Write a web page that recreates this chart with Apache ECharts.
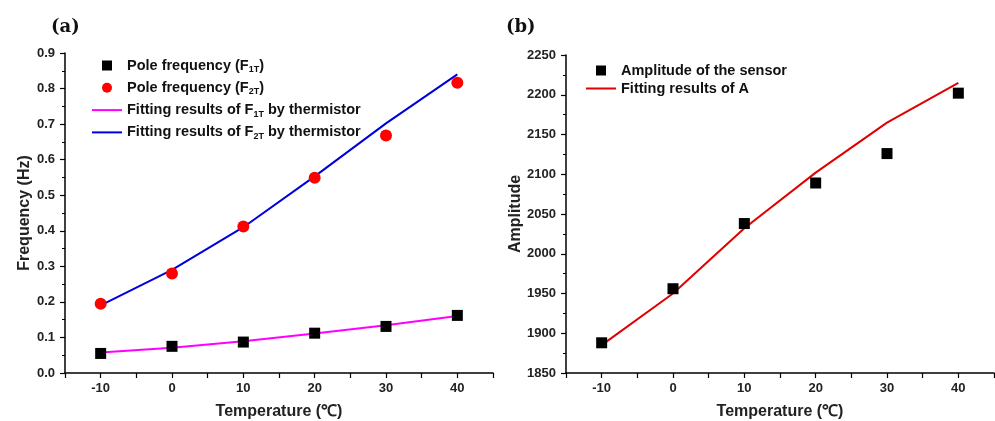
<!DOCTYPE html>
<html>
<head>
<meta charset="utf-8">
<script src="https://cdn.jsdelivr.net/npm/echarts@6/dist/echarts.min.js"></script>
<style>
html, body { margin: 0; padding: 0; background: #fff; }
#main { width: 995px; height: 421px; }
</style>
</head>
<body>
<div id="main"></div>
<script>
// temperatures (°C)
var temps = [-10, 0, 10, 20, 30, 40];

// panel (a): pole frequencies (Hz)
var f1tMeasured = [0.055, 0.075, 0.087, 0.112, 0.131, 0.162];
var f2tMeasured = [0.195, 0.280, 0.412, 0.549, 0.668, 0.816];
var f1tFit = [0.058, 0.071, 0.089, 0.111, 0.134, 0.160];
var f2tFit = [0.190, 0.290, 0.410, 0.553, 0.702, 0.840];

// panel (b): amplitude
var ampMeasured = [1888, 1956, 2038, 2089, 2126, 2202];
var ampFit = [1885, 1950, 2032, 2102, 2165, 2215];

function pairs(xs, ys) {
	var out = [];
	for (var i = 0; i < xs.length; i++) {
		out.push([xs[i], ys[i]]);
	}
	return out;
}

var labelFont = { color: '#222', fontFamily: 'Liberation Sans', fontWeight: 'bold', fontSize: 13 };
var nameFont = { color: '#222', fontFamily: 'Liberation Sans', fontWeight: 'bold', fontSize: 16 };
var axisLine = { show: true, onZero: false, lineStyle: { color: '#000', width: 1.5 } };
var squareIcon = 'path://M0,0 L10,0 L10,10 L0,10 Z';

function xAxisFor(gridIndex) {
	return {
		type: 'value', gridIndex: gridIndex,
		min: -15, max: 45, interval: 5,
		name: 'Temperature (℃)', nameLocation: 'middle', nameGap: 31,
		nameTextStyle: nameFont,
		axisLine: axisLine,
		axisTick: { show: true, length: 5, lineStyle: { color: '#000', width: 1.2 } },
		axisLabel: Object.assign({
			margin: 9,
			formatter: function(v) { return v % 10 === 0 ? String(v) : ''; }
		}, labelFont),
		splitLine: { show: false }
	};
}

var legendRich = {
	t: { fontFamily: 'Liberation Sans', fontWeight: 'bold', fontSize: 14.5, color: '#111' },
	s: { fontFamily: 'Liberation Sans', fontWeight: 'bold', fontSize: 9, color: '#111', padding: [8, 0, 0, 0] }
};

var legendNames = {
	'f1': '{t|Pole frequency (F}{s|1T}{t|)}',
	'f2': '{t|Pole frequency (F}{s|2T}{t|)}',
	'fit1': '{t|Fitting results of F}{s|1T}{t| by thermistor}',
	'fit2': '{t|Fitting results of F}{s|2T}{t| by thermistor}'
};

var option = {
	animation: false,
	backgroundColor: '#fff',
	title: [
		{ text: '(a)', left: 46, top: 13, textStyle: { fontFamily: 'DejaVu Serif', fontWeight: 'bold', fontSize: 18, color: '#111' } },
		{ text: '(b)', left: 501, top: 13, textStyle: { fontFamily: 'DejaVu Serif', fontWeight: 'bold', fontSize: 18, color: '#111' } }
	],
	grid: [
		{ left: 65, right: 502, top: 53, bottom: 48, outerBoundsMode: 'none' },
		{ left: 566, right: 1, top: 55, bottom: 48, outerBoundsMode: 'none' }
	],
	legend: [
		{
			orient: 'vertical', left: 86, top: 53, itemWidth: 30, itemHeight: 10, itemGap: 6.3,
			data: [
				{ name: 'f1', icon: squareIcon },
				{ name: 'f2', icon: 'circle' },
				{ name: 'fit1', itemStyle: { opacity: 0 } },
				{ name: 'fit2', itemStyle: { opacity: 0 } }
			],
			formatter: function(n) { return legendNames[n]; },
			textStyle: { rich: legendRich }
		},
		{
			orient: 'vertical', left: 580, top: 58, itemWidth: 30, itemHeight: 10, itemGap: 3,
			data: [
				{ name: 'Amplitude of the sensor', icon: squareIcon },
				{ name: 'Fitting results of A', itemStyle: { opacity: 0 } }
			],
			textStyle: { fontFamily: 'Liberation Sans', fontWeight: 'bold', fontSize: 14.5, color: '#111' }
		}
	],
	xAxis: [xAxisFor(0), xAxisFor(1)],
	yAxis: [
		{
			type: 'value', gridIndex: 0, min: 0, max: 0.9, interval: 0.1,
			name: 'Frequency (Hz)', nameLocation: 'middle', nameGap: 32,
			nameTextStyle: nameFont,
			axisLine: axisLine,
			axisTick: { show: true, length: 5, lineStyle: { color: '#000', width: 1.2 } },
			minorTick: { show: true, splitNumber: 2, length: 3, lineStyle: { color: '#000', width: 1 } },
			axisLabel: Object.assign({ margin: 10, formatter: function(v) { return v.toFixed(1); } }, labelFont),
			splitLine: { show: false }
		},
		{
			type: 'value', gridIndex: 1, min: 1850, max: 2250, interval: 50,
			name: 'Amplitude', nameLocation: 'middle', nameGap: 41,
			nameTextStyle: nameFont,
			axisLine: axisLine,
			axisTick: { show: true, length: 5, lineStyle: { color: '#000', width: 1.2 } },
			minorTick: { show: true, splitNumber: 2, length: 3, lineStyle: { color: '#000', width: 1 } },
			axisLabel: Object.assign({ margin: 10, formatter: function(v) { return String(v); } }, labelFont),
			splitLine: { show: false }
		}
	],
	series: [
		{
			name: 'fit1', type: 'line', xAxisIndex: 0, yAxisIndex: 0,
			data: pairs(temps, f1tFit), symbol: 'none',
			lineStyle: { color: '#ff00ff', width: 2 }, itemStyle: { color: '#ff00ff' }
		},
		{
			name: 'fit2', type: 'line', xAxisIndex: 0, yAxisIndex: 0,
			data: pairs(temps, f2tFit), symbol: 'none',
			lineStyle: { color: '#0000dd', width: 2 }, itemStyle: { color: '#0000dd' }
		},
		{
			name: 'f1', type: 'scatter', xAxisIndex: 0, yAxisIndex: 0,
			data: pairs(temps, f1tMeasured), symbol: 'rect', symbolSize: 11,
			itemStyle: { color: '#000', opacity: 1 }, z: 5
		},
		{
			name: 'f2', type: 'scatter', xAxisIndex: 0, yAxisIndex: 0,
			data: pairs(temps, f2tMeasured), symbol: 'circle', symbolSize: 12,
			itemStyle: { color: '#ff0000', opacity: 1 }, z: 5
		},
		{
			name: 'Fitting results of A', type: 'line', xAxisIndex: 1, yAxisIndex: 1,
			data: pairs(temps, ampFit), symbol: 'none',
			lineStyle: { color: '#e00000', width: 2 }, itemStyle: { color: '#e00000' }
		},
		{
			name: 'Amplitude of the sensor', type: 'scatter', xAxisIndex: 1, yAxisIndex: 1,
			data: pairs(temps, ampMeasured), symbol: 'rect', symbolSize: 11,
			itemStyle: { color: '#000', opacity: 1 }, z: 5
		}
	]
};

var myChart = echarts.init(document.getElementById('main'));
myChart.setOption(option);
</script>
</body>
</html>
